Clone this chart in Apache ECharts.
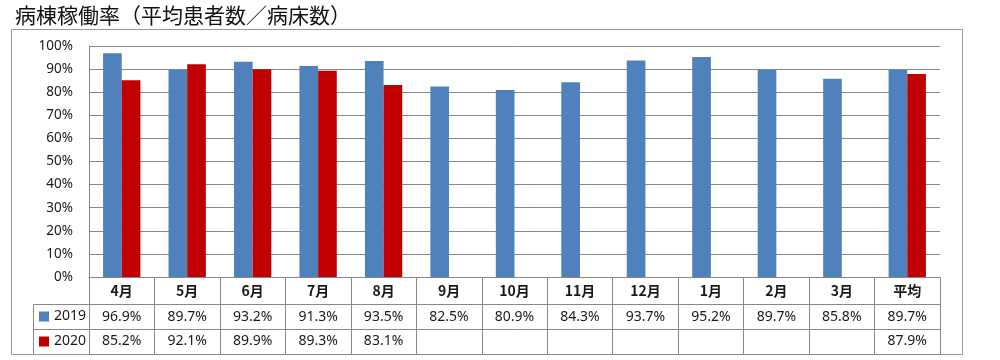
<!DOCTYPE html>
<html>
<head>
<meta charset="utf-8">
<script src="https://cdn.jsdelivr.net/npm/echarts@6/dist/echarts.min.js"></script>
<style>
html,body{margin:0;padding:0;background:#fff;}
#c{width:1000px;height:360px;}
</style>
</head>
<body>
<div id="c"></div>
<script>
var titleText = '病棟稼働率（平均患者数／病床数）';
var categories = ['4月','5月','6月','7月','8月','9月','10月','11月','12月','1月','2月','3月','平均'];
var s2019 = [96.9, 89.7, 93.2, 91.3, 93.5, 82.5, 80.9, 84.3, 93.7, 95.2, 89.7, 85.8, 89.7];
var s2020 = [85.2, 92.1, 89.9, 89.3, 83.1, null, null, null, null, null, null, null, 87.9];
var seriesNames = ['2019', '2020'];
var colors = ['#4F81BD', '#C00000'];

var lineColor = '#888888';
var font = '"Noto Sans", "Open Sans", sans-serif';
var cjk = '"Noto Sans CJK JP", sans-serif';

function fmt(v){ return (v === null || v === undefined) ? '' : v.toFixed(1) + '%'; }

var chart = echarts.init(document.getElementById('c'), null, {renderer: 'canvas'});

function tableAxis(offset, tickLen, formatter, margin, fs, fw, ff) {
  return {
    type: 'category',
    data: categories,
    position: 'bottom',
    offset: offset,
    boundaryGap: true,
    axisLine: {show: true, lineStyle: {color: lineColor, width: 1}},
    axisTick: {show: tickLen > 0, length: tickLen, inside: false, alignWithLabel: false, interval: 0, lineStyle: {color: lineColor, width: 1}},
    axisLabel: {show: !!formatter, interval: 0, margin: margin, color: '#1a1a1a', fontSize: fs, fontWeight: fw, fontFamily: ff, lineHeight: 16, formatter: formatter},
    splitLine: {show: false},
    axisPointer: {show: false}
  };
}

var option = {
  animation: false,
  backgroundColor: '#fff',
  title: {
    text: titleText,
    left: 15,
    top: 5,
    padding: 0,
    textStyle: {fontSize: 21, fontWeight: 'normal', color: '#111', fontFamily: cjk}
  },
  legend: [
    {
      data: [seriesNames[0]],
      orient: 'vertical', left: 39, top: 308.5, padding: 0,
      itemWidth: 10, itemHeight: 10, icon: 'rect',
      textStyle: {fontSize: 14, color: '#1a1a1a', fontFamily: font, lineHeight: 16},
      selectedMode: false
    },
    {
      data: [seriesNames[1]],
      orient: 'vertical', left: 39, top: 333.5, padding: 0,
      itemWidth: 10, itemHeight: 10, icon: 'rect',
      textStyle: {fontSize: 14, color: '#1a1a1a', fontFamily: font, lineHeight: 16},
      selectedMode: false
    }
  ],
  grid: {left: 89, right: 60, top: 46, bottom: 83, containLabel: false},
  xAxis: [
    tableAxis(0, 27, function(v){ return v; }, 6, 14, 'bold', cjk),
    tableAxis(27, 25, function(v, i){ return fmt(s2019[i]); }, 5, 14, 'normal', font),
    tableAxis(52, 25, function(v, i){ return fmt(s2020[i]); }, 4.5, 14, 'normal', font),
    tableAxis(77, 0, null, 0, 14, 'normal', font)
  ],
  yAxis: {
    type: 'value',
    min: 0, max: 100, interval: 10,
    axisLine: {show: true, lineStyle: {color: lineColor, width: 1}},
    axisTick: {show: false},
    axisLabel: {formatter: '{value}%', color: '#1a1a1a', fontSize: 13.5, fontFamily: font, margin: 16},
    splitLine: {show: true, lineStyle: {color: lineColor, width: 1}}
  },
  series: [
    {
      name: seriesNames[0], type: 'bar', data: s2019, xAxisIndex: 0,
      itemStyle: {color: colors[0]},
      barGap: '0%', barCategoryGap: '43%'
    },
    {
      name: seriesNames[1], type: 'bar', data: s2020, xAxisIndex: 0,
      itemStyle: {color: colors[1]},
      barGap: '0%', barCategoryGap: '43%'
    }
  ],
  graphic: [
    {type: 'rect', shape: {x: 11.5, y: 29.5, width: 951, height: 325}, style: {fill: null, stroke: '#999', lineWidth: 1}, silent: true, z: 0},
    {type: 'line', shape: {x1: 33.5, y1: 304.5, x2: 33.5, y2: 354.5}, style: {stroke: lineColor, lineWidth: 1}, silent: true},
    {type: 'line', shape: {x1: 33.5, y1: 304.5, x2: 89.5, y2: 304.5}, style: {stroke: lineColor, lineWidth: 1}, silent: true},
    {type: 'line', shape: {x1: 33.5, y1: 329.5, x2: 89.5, y2: 329.5}, style: {stroke: lineColor, lineWidth: 1}, silent: true}
  ]
};
chart.setOption(option);
</script>
</body>
</html>
